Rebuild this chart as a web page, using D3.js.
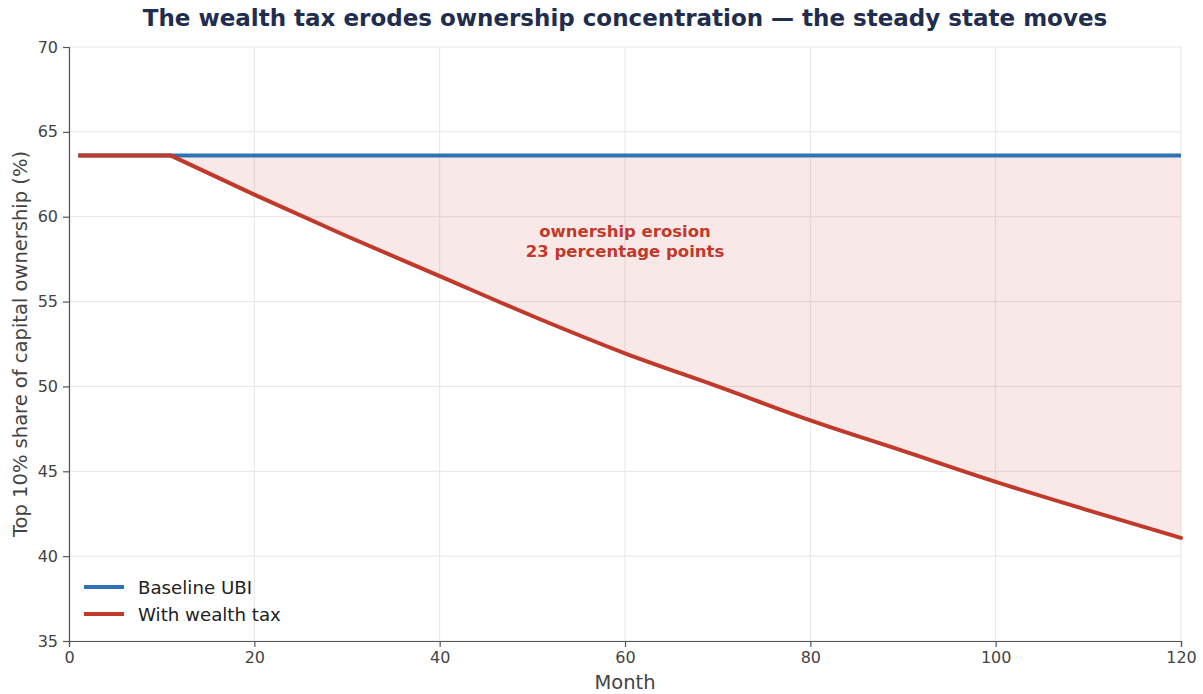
<!DOCTYPE html>
<html><head><meta charset="utf-8">
<script src="https://cdn.jsdelivr.net/npm/d3@7"></script>
<style>
body{margin:0;background:#fff;}
svg{display:block;font-family:"DejaVu Sans",sans-serif;}
</style></head>
<body><svg id="c" width="1203" height="694"></svg>
<script>
const baselineMonths = [1, 120];
const baselineValues = [63.6, 63.6];
const taxMonths = [1, 11, 20, 30, 40, 50, 60, 70, 80, 90, 100, 110, 120];
const taxValues = [63.6, 63.6, 61.3, 58.85, 56.5, 54.15, 51.95, 50.0, 48.0, 46.2, 44.38, 42.7, 41.07];
const xTicks = [0, 20, 40, 60, 80, 100, 120];
const yTicks = [35, 40, 45, 50, 55, 60, 65, 70];
const seriesNames = ["Baseline UBI", "With wealth tax"];
const titleText = "The wealth tax erodes ownership concentration — the steady state moves";
const annotationLines = ["ownership erosion", "23 percentage points"];

const svg = d3.select("#c");
const L = 69, R = 1181, T = 47, B = 641;
const x = d3.scaleLinear().domain([0, 120]).range([L, R]);
const y = d3.scaleLinear().domain([35, 70]).range([B, T]);
const blue = "#2e74b5", red = "#c0392b";

// grid
svg.append("g").selectAll("line").data(xTicks).join("line")
  .attr("x1", d => x(d)).attr("x2", d => x(d)).attr("y1", T).attr("y2", B)
  .attr("stroke", "#e6e6e6").attr("stroke-width", 1);
svg.append("g").selectAll("line").data(yTicks).join("line")
  .attr("x1", L).attr("x2", R).attr("y1", d => y(d)).attr("y2", d => y(d))
  .attr("stroke", "#e6e6e6").attr("stroke-width", 1);

// series as points; the first flat part is linear, the decline is a smooth curve
const pts = taxMonths.map((m, i) => [m, taxValues[i]]);
const flat = pts.filter(p => p[0] <= 11);
const decline = pts.filter(p => p[0] >= 11);
const base = baselineValues[0];

const areaGen = d3.area().curve(d3.curveMonotoneX).x(p => x(p[0])).y0(() => y(base)).y1(p => y(p[1]));
svg.append("path").datum(decline).attr("d", areaGen).attr("fill", red).attr("fill-opacity", 0.11);

// lines
const bl = d3.line().x((d, i) => x(baselineMonths[i])).y(d => y(d));
svg.append("path").datum(baselineValues).attr("d", bl).attr("fill", "none").attr("stroke", blue).attr("stroke-width", 4);
const lineFlat = d3.line().x(p => x(p[0])).y(p => y(p[1]));
const lineDecl = d3.line().curve(d3.curveMonotoneX).x(p => x(p[0])).y(p => y(p[1]));
svg.append("path").datum(flat).attr("d", lineFlat).attr("fill", "none").attr("stroke", red).attr("stroke-width", 4);
svg.append("path").datum(decline).attr("d", lineDecl).attr("fill", "none").attr("stroke", red).attr("stroke-width", 4).attr("stroke-linecap", "round");

// axes
const xa = svg.append("g").attr("transform", `translate(0,${B})`)
  .call(d3.axisBottom(x).tickValues(xTicks).tickSize(6).tickPadding(5).tickFormat(d3.format("d")));
const ya = svg.append("g").attr("transform", `translate(${L},0)`)
  .call(d3.axisLeft(y).tickValues(yTicks).tickSize(6).tickPadding(5).tickFormat(d3.format("d")));
[xa, ya].forEach(a => {
  a.select(".domain").attr("stroke", "#555").attr("stroke-width", 1.2);
  a.selectAll(".tick line").attr("stroke", "#555").attr("stroke-width", 1.2);
  a.selectAll(".tick text").attr("fill", "#444").attr("font-size", 16).attr("font-family", "DejaVu Sans");
});

// axis labels
svg.append("text").attr("x", (L + R) / 2).attr("y", 689).attr("text-anchor", "middle")
  .attr("font-size", 19.5).attr("fill", "#444").text("Month");
svg.append("text").attr("transform", `translate(27,${(T + B) / 2}) rotate(-90)`).attr("text-anchor", "middle")
  .attr("font-size", 19.5).attr("fill", "#444").text("Top 10% share of capital ownership (%)");

// title
svg.append("text").attr("x", 625).attr("y", 26).attr("text-anchor", "middle")
  .attr("font-size", 23).attr("font-weight", "bold").attr("fill", "#1f2d4e").text(titleText);

// annotation
svg.append("text").attr("x", x(60)).attr("y", 237).attr("text-anchor", "middle")
  .attr("font-size", 16.5).attr("font-weight", "bold").attr("fill", red)
  .selectAll("tspan").data(annotationLines).join("tspan")
  .attr("x", x(60)).attr("dy", (d, i) => i ? 19.5 : 0).text(d => d);

// legend
const lg = svg.append("g");
[blue, red].forEach((c, i) => {
  const yy = 587 + i * 27;
  lg.append("line").attr("x1", 84).attr("x2", 124).attr("y1", yy).attr("y2", yy).attr("stroke", c).attr("stroke-width", 4);
  lg.append("text").attr("x", 138).attr("y", yy + 6.5).attr("font-size", 18.2).attr("fill", "#222").text(seriesNames[i]);
});
</script></body></html>
